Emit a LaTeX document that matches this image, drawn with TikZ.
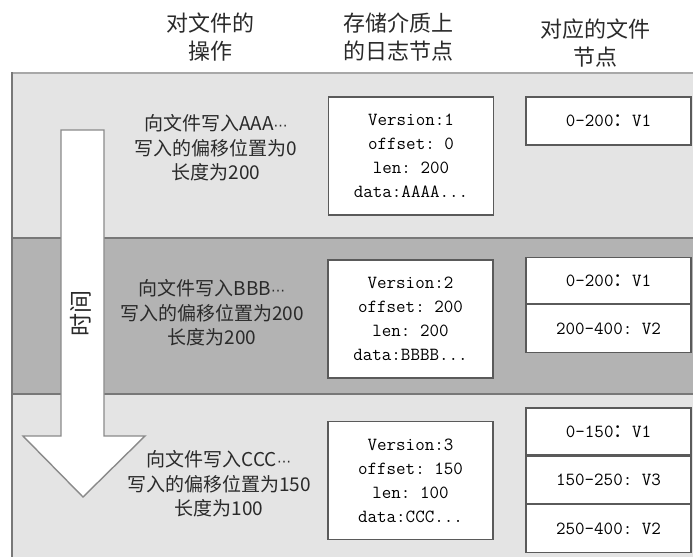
\documentclass[tikz,border=0pt]{standalone}
\usepackage{fontspec}
\newfontfamily\cjk{Noto Sans CJK SC}
\newfontfamily\dejavu{DejaVu Sans}
\setmonofont{Latin Modern Mono}
\definecolor{bandlight}{HTML}{E4E4E4}
\definecolor{banddark}{HTML}{B3B3B3}
\definecolor{edge}{HTML}{787878}
\definecolor{topedge}{HTML}{A8A8A8}
\definecolor{boxedge}{HTML}{5A5A5A}
\definecolor{arrowedge}{HTML}{8A8A8A}
\definecolor{txt}{HTML}{2A2A2A}
\newcommand{\middots}{{\dejavu\fontsize{14}{14}\selectfont ⋯}}
\tikzset{
  head/.style={font=\cjk\fontsize{22}{28}\selectfont, align=center, text=txt, inner sep=0pt},
  optext/.style={font=\cjk\fontsize{19}{24.5}\selectfont, align=center, text=txt, inner sep=0pt},
  timetext/.style={font=\cjk\fontsize{23}{24}\selectfont, text=txt, inner sep=0pt, rotate=90},
  logbox/.style={draw=boxedge, line width=1.2pt, fill=white, minimum width=165pt, minimum height=118pt,
    align=center, font=\ttfamily\fontsize{18.5}{24}\selectfont, text=black, inner sep=0pt},
  filebox/.style={draw=boxedge, line width=1.2pt, fill=white, minimum width=165pt, minimum height=47pt,
    font=\ttfamily\fontsize{18.5}{24}\selectfont, text=black, inner sep=0pt},
  bandline/.style={draw=edge, line width=1.6pt},
  arrowline/.style={draw=arrowedge, line width=1.4pt, fill=white, line join=miter}
}
\begin{document}
\begin{tikzpicture}[x=1pt,y=-1pt]
\useasboundingbox (0,0) rectangle (693,557);
\fill[white] (0,0) rectangle (693,557);
% bands
\fill[bandlight] (12,73) rectangle (693,238);
\fill[banddark] (12,238) rectangle (693,394);
\fill[bandlight] (12,394) rectangle (693,557);
\draw[draw=topedge, line width=2.4pt] (11,73) -- (693,73);
\draw[bandline] (12,238) -- (693,238);
\draw[bandline] (12,394) -- (693,394);
\draw[bandline] (12,72) -- (12,557);
% headings
\node[head] (h1) at (210,37) {对文件的\\操作};
\node[head] (h2) at (398,37) {存储介质上\\的日志节点};
\node[head] (h3) at (595,43) {对应的文件\\节点};
% time arrow
\draw[arrowline] (61,130) -- (104,130) -- (104,436) -- (145,436) -- (83,497) -- (23,436) -- (61,436) -- cycle;
\node[timetext] (time) at (81,313) {时间};
% operations
\node[optext] (op1) at (216,148) {向文件写入AAA\middots\\写入的偏移位置为0\\长度为200};
\node[optext] (op2) at (212,313) {向文件写入BBB\middots\\写入的偏移位置为200\\长度为200};
\node[optext] (op3) at (219,484) {向文件写入CCC\middots\\写入的偏移位置为150\\长度为100};
% log nodes
\node[logbox] (log1) at (411,156) {Version:1\\offset: 0\\len: 200\\data:AAAA...};
\node[logbox] (log2) at (410.5,319) {Version:2\\offset: 200\\len: 200\\data:BBBB...};
\node[logbox] (log3) at (410.5,480.5) {Version:3\\offset: 150\\len: 100\\data:CCC...};
% file nodes
\node[filebox, minimum height=48pt] (f1a) at (608.5,121) {0-200{\cjk ：}V1};
\node[filebox, minimum height=46pt] (f2a) at (608.5,280.5) {0-200{\cjk ：}V1};
\node[filebox, minimum height=48pt, anchor=north] (f2b) at (f2a.south) {200-400: V2};
\node[filebox] (f3a) at (608.5,431.5) {0-150{\cjk ：}V1};
\node[filebox, anchor=north] (f3b) at (f3a.south) {150-250: V3};
\node[filebox, minimum height=48pt, anchor=north] (f3c) at (f3b.south) {250-400: V2};
\end{tikzpicture}
\end{document}
